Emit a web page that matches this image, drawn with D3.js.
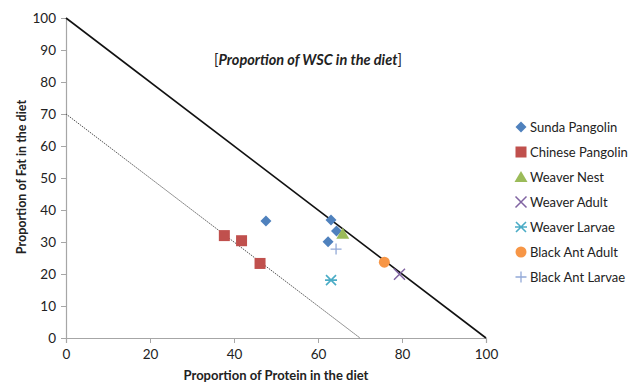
<!DOCTYPE html>
<html>
<head>
<meta charset="utf-8">
<script src="https://d3js.org/d3.v7.min.js"></script>
<style>
  body { margin: 0; background: #fff; }
  text { font-family: Lato, "Open Sans", sans-serif; fill: #222; }
</style>
</head>
<body>
<script>
// series data: [protein %, fat %]
var sundaPangolin   = [[47.6, 36.6], [63.1, 36.9], [64.4, 33.4], [62.4, 30.1]];
var chinesePangolin = [[37.7, 32.0], [41.8, 30.4], [46.2, 23.3]];
var weaverNest      = [[65.9, 32.6]];
var weaverAdult     = [[79.4, 19.9]];
var weaverLarvae    = [[63.1, 18.1]];
var blackAntAdult   = [[75.8, 23.7]];
var blackAntLarvae  = [[64.3, 27.8]];

var seriesNames = ["Sunda Pangolin", "Chinese Pangolin", "Weaver Nest", "Weaver Adult",
                   "Weaver Larvae", "Black Ant Adult", "Black Ant Larvae"];
var seriesData = [sundaPangolin, chinesePangolin, weaverNest, weaverAdult,
                  weaverLarvae, blackAntAdult, blackAntLarvae];
var seriesColors = ["#4F81BD", "#C0504D", "#9BBB59", "#8064A2", "#4BACC6", "#F79646", "#93A9D7"];
var seriesShapes = ["diamond", "square", "triangle", "x", "star", "circle", "plus"];

var xTicks = [0, 20, 40, 60, 80, 100];
var yTicks = [0, 10, 20, 30, 40, 50, 60, 70, 80, 90, 100];

// reference lines: protein + fat = 100 and protein + fat = 70
var solidLine  = [[0, 100], [100, 0]];
var dottedLine = [[0, 70], [70, 0]];

var svgWidth = 635, svgHeight = 383;
var margin = {top: 18, left: 66};
var width = 420, height = 320;

var svg = d3.select("body").append("svg")
  .attr("width", svgWidth)
  .attr("height", svgHeight);

var g = svg.append("g")
  .attr("transform", "translate(" + margin.left + "," + margin.top + ")");

var x = d3.scaleLinear().domain([0, 100]).range([0, width]);
var y = d3.scaleLinear().domain([0, 100]).range([height, 0]);

// axes
var xAxis = d3.axisBottom(x).tickValues(xTicks).tickSize(5).tickPadding(6);
var yAxis = d3.axisLeft(y).tickValues(yTicks).tickSize(5).tickPadding(5);

var gx = g.append("g")
  .attr("transform", "translate(0," + height + ")")
  .call(xAxis);
var gy = g.append("g").call(yAxis);

[gx, gy].forEach(function(a) {
  a.select(".domain").attr("stroke", "#a6a6a6").attr("stroke-width", 1.2);
  a.selectAll(".tick line").attr("stroke", "#a6a6a6");
  a.selectAll(".tick text").style("font-size", "13.5px").attr("fill", "#222");
});

// reference lines
var line = d3.line()
  .x(function(d) { return x(d[0]); })
  .y(function(d) { return y(d[1]); });

g.append("path")
  .datum(solidLine)
  .attr("fill", "none")
  .attr("stroke", "#111")
  .attr("stroke-width", 1.6)
  .attr("d", line);

g.append("path")
  .datum(dottedLine)
  .attr("fill", "none")
  .attr("stroke", "#555")
  .attr("stroke-width", 1)
  .attr("stroke-dasharray", "1.5,1")
  .attr("d", line);

// marker drawing
function drawMarker(sel, shape, color) {
  if (shape == "diamond") {
    sel.append("path").attr("d", "M0,-5.5L5.5,0L0,5.5L-5.5,0Z").attr("fill", color);
  } else if (shape == "square") {
    sel.append("rect").attr("x", -5.5).attr("y", -5.5).attr("width", 11).attr("height", 11).attr("fill", color);
  } else if (shape == "triangle") {
    sel.append("path").attr("d", "M0,-6L6.5,5L-6.5,5Z").attr("fill", color);
  } else if (shape == "circle") {
    sel.append("circle").attr("r", 5.5).attr("fill", color);
  } else if (shape == "x") {
    sel.append("path").attr("d", "M-5.5,-5.5L5.5,5.5M-5.5,5.5L5.5,-5.5")
      .attr("stroke", color).attr("stroke-width", 1.5).attr("fill", "none");
  } else if (shape == "star") {
    sel.append("path").attr("d", "M-5,-5L5,5M-5,5L5,-5M-6,0L6,0")
      .attr("stroke", color).attr("stroke-width", 1.6).attr("fill", "none");
  } else if (shape == "plus") {
    sel.append("path").attr("d", "M-5.5,0L5.5,0M0,-5.5L0,5.5")
      .attr("stroke", color).attr("stroke-width", 1.3).attr("fill", "none");
  }
}

seriesData.forEach(function(data, i) {
  g.append("g").selectAll("g")
    .data(data)
    .enter().append("g")
    .attr("transform", function(d) { return "translate(" + x(d[0]) + "," + y(d[1]) + ")"; })
    .each(function() { drawMarker(d3.select(this), seriesShapes[i], seriesColors[i]); });
});

// title inside plot
var title = svg.append("text")
  .attr("x", 308)
  .attr("y", 65)
  .attr("text-anchor", "middle")
  .style("font-size", "14.5px");
title.append("tspan").text("[");
title.append("tspan").style("font-weight", "bold").style("font-style", "italic")
  .text("Proportion of WSC in the diet");
title.append("tspan").text("]");

// axis titles
svg.append("text")
  .attr("x", 276)
  .attr("y", 380)
  .attr("text-anchor", "middle")
  .style("font-size", "13px")
  .style("font-weight", "bold")
  .text("Proportion of Protein in the diet");

svg.append("text")
  .attr("transform", "translate(26,177) rotate(-90)")
  .attr("text-anchor", "middle")
  .style("font-size", "12.5px")
  .style("font-weight", "bold")
  .text("Proportion of Fat in the diet");

// legend
var legend = svg.append("g").attr("transform", "translate(521,127)");
var items = legend.selectAll("g")
  .data(seriesNames)
  .enter().append("g")
  .attr("transform", function(d, i) { return "translate(0," + (i * 25) + ")"; });

items.each(function(d, i) { drawMarker(d3.select(this), seriesShapes[i], seriesColors[i]); });

items.append("text")
  .attr("x", 9)
  .attr("y", 5)
  .style("font-size", "13px")
  .text(function(d) { return d; });
</script>
</body>
</html>
